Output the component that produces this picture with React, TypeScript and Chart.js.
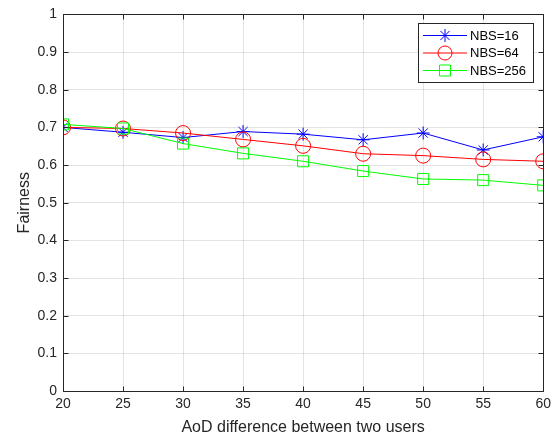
import React, { useEffect, useRef } from "react";
import { Chart, registerables } from "chart.js";

Chart.register(...registerables);

const xValues = [20, 25, 30, 35, 40, 45, 50, 55, 60];
const nbs16 = [0.70, 0.687, 0.673, 0.689, 0.682, 0.667, 0.685, 0.640, 0.675];
const nbs64 = [0.70, 0.697, 0.685, 0.668, 0.651, 0.630, 0.625, 0.615, 0.610];
const nbs256 = [0.708, 0.697, 0.657, 0.631, 0.610, 0.584, 0.563, 0.560, 0.546];
const seriesLabels = ["NBS=16", "NBS=64", "NBS=256"];
const xTitle = "AoD difference between two users";
const yTitle = "Fairness";

const AXIS_COLOR = "#262626";
const FONT = "'Liberation Sans', Arial, Helvetica, sans-serif";

const boxPlugin = {
  id: "matlabBox",
  afterDatasetsDraw(chart: any) {
    const { ctx, chartArea } = chart;
    const { left, right, top, bottom } = chartArea;
    const xs = chart.scales.x;
    const ys = chart.scales.y;
    ctx.save();
    ctx.strokeStyle = AXIS_COLOR;
    ctx.lineWidth = 1;
    ctx.beginPath();
    const L = Math.round(left) + 0.5;
    const R = Math.round(right) + 0.5;
    const T = Math.round(top) + 0.5;
    const B = Math.round(bottom) + 0.5;
    ctx.rect(L, T, R - L, B - T);
    const tl = 5;
    xs.ticks.forEach((t: any) => {
      const px = Math.round(xs.getPixelForValue(t.value)) + 0.5;
      ctx.moveTo(px, B);
      ctx.lineTo(px, B - tl);
      ctx.moveTo(px, T);
      ctx.lineTo(px, T + tl);
    });
    ys.ticks.forEach((t: any) => {
      const py = Math.round(ys.getPixelForValue(t.value)) + 0.5;
      ctx.moveTo(L, py);
      ctx.lineTo(L + tl, py);
      ctx.moveTo(R, py);
      ctx.lineTo(R - tl, py);
    });
    ctx.stroke();

    // legend
    const lx = 418.5, ly = 23.5, lw = 115, lh = 59;
    ctx.fillStyle = "#ffffff";
    ctx.fillRect(lx, ly, lw, lh);
    ctx.strokeStyle = AXIS_COLOR;
    ctx.strokeRect(lx, ly, lw, lh);
    const colors = ["#0000ff", "#ff0000", "#00ff00"];
    const rows = [35, 52.5, 70];
    ctx.font = `13px ${FONT}`;
    ctx.textBaseline = "middle";
    rows.forEach((ry, i) => {
      ctx.strokeStyle = colors[i];
      ctx.lineWidth = 1;
      ctx.beginPath();
      ctx.moveTo(423, ry + 0.5);
      ctx.lineTo(467, ry + 0.5);
      ctx.stroke();
      const mx = 445, my = ry + 0.5;
      ctx.beginPath();
      if (i === 0) {
        const r = 6.5;
        ctx.moveTo(mx - r, my); ctx.lineTo(mx + r, my);
        ctx.moveTo(mx, my - r); ctx.lineTo(mx, my + r);
        const d = r * Math.SQRT1_2;
        ctx.moveTo(mx - d, my - d); ctx.lineTo(mx + d, my + d);
        ctx.moveTo(mx - d, my + d); ctx.lineTo(mx + d, my - d);
      } else if (i === 1) {
        ctx.arc(mx, my, 7, 0, Math.PI * 2);
      } else {
        ctx.rect(mx - 5.5, my - 5.5, 11, 11);
      }
      ctx.stroke();
      ctx.fillStyle = "#000000";
      ctx.fillText(seriesLabels[i], 470, ry + 1);
    });
    ctx.restore();
  },
};

export default function App() {
  const ref = useRef<HTMLCanvasElement | null>(null);
  useEffect(() => {
    if (!ref.current) return;
    const chart = new Chart(ref.current, {
      type: "line",
      data: {
        labels: xValues,
        datasets: [
          {
            label: seriesLabels[0],
            data: xValues.map((x, i) => ({ x, y: nbs16[i] })),
            borderColor: "#0000ff",
            backgroundColor: "#0000ff",
            borderWidth: 1,
            pointStyle: "star",
            pointRadius: 6.5,
            pointBorderWidth: 1,
            pointBorderColor: "#0000ff",
            order: 2,
          },
          {
            label: seriesLabels[1],
            data: xValues.map((x, i) => ({ x, y: nbs64[i] })),
            borderColor: "#ff0000",
            backgroundColor: "transparent",
            borderWidth: 1,
            pointStyle: "circle",
            pointRadius: 7.5,
            pointBorderWidth: 1,
            pointBackgroundColor: "transparent",
            pointBorderColor: "#ff0000",
            order: 1,
          },
          {
            label: seriesLabels[2],
            data: xValues.map((x, i) => ({ x, y: nbs256[i] })),
            borderColor: "#00ff00",
            backgroundColor: "transparent",
            borderWidth: 1,
            pointStyle: "rect",
            pointRadius: 7.8,
            pointBorderWidth: 1,
            pointBackgroundColor: "transparent",
            pointBorderColor: "#00ff00",
            order: 0,
          },
        ],
      },
      options: {
        responsive: false,
        animation: false,
        devicePixelRatio: 1,
        layout: { padding: { left: 0, top: 13, right: 12, bottom: 0 } },
        plugins: { legend: { display: false }, tooltip: { enabled: false } },
        scales: {
          x: {
            type: "linear",
            min: 20,
            max: 60,
            afterFit: (s: any) => { s.height = 48; },
            ticks: {
              stepSize: 5,
              color: AXIS_COLOR,
              font: { family: FONT, size: 14 },
              padding: 5,
              maxRotation: 0,
            },
            grid: { color: "rgba(38,38,38,0.13)", drawTicks: false },
            border: { display: false },
            title: {
              display: true,
              text: xTitle,
              color: AXIS_COLOR,
              font: { family: FONT, size: 16 },
              padding: { top: 0, bottom: 2 },
            },
          },
          y: {
            type: "linear",
            min: 0,
            max: 1,
            afterFit: (s: any) => { s.width = 63; },
            ticks: {
              stepSize: 0.1,
              color: AXIS_COLOR,
              font: { family: FONT, size: 14 },
              padding: 6,
              callback: (v: any) => String(Math.round(Number(v) * 10) / 10),
            },
            grid: { color: "rgba(38,38,38,0.13)", drawTicks: false },
            border: { display: false },
            title: {
              display: true,
              text: yTitle,
              color: AXIS_COLOR,
              font: { family: FONT, size: 16 },
              padding: { top: 15, bottom: 0 },
            },
          },
        },
      },
      plugins: [boxPlugin],
    });
    return () => chart.destroy();
  }, []);
  return (
    <div style={{ position: "fixed", left: 0, top: 0, width: 556, height: 439, background: "#fff" }}>
      <canvas ref={ref} width={556} height={439} style={{ display: "block" }} />
    </div>
  );
}
